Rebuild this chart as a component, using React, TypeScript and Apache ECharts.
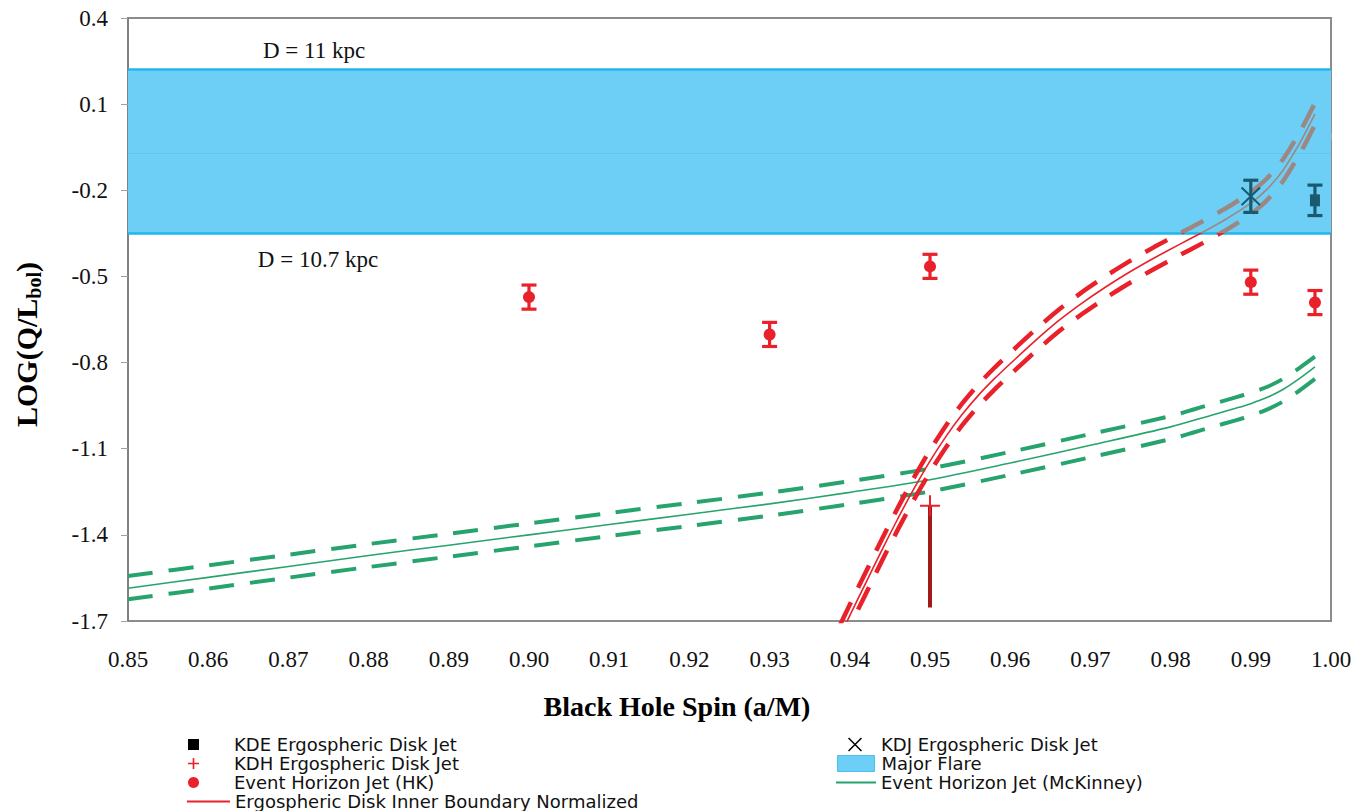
import React, { useEffect, useRef } from "react";
import * as echarts from "echarts";

// ---- axes ----
const xMin = 0.85;
const xMax = 1.0;
const xStep = 0.01;
const yMin = -1.7;
const yMax = 0.4;
const yStep = 0.3;

// ---- Event Horizon Jet (McKinney) ----
const mckSpin = [0.85, 0.86, 0.87, 0.88, 0.89, 0.9, 0.91, 0.92, 0.93, 0.94, 0.95, 0.96, 0.97, 0.98, 0.985, 0.988, 0.99, 0.992, 0.994, 0.996, 0.998];
const mckCenter = [-1.586, -1.548, -1.51, -1.472, -1.436, -1.4, -1.364, -1.328, -1.292, -1.252, -1.208, -1.15, -1.088, -1.024, -0.984, -0.96, -0.943, -0.922, -0.894, -0.857, -0.815];
const mckUpper = [-1.543, -1.506, -1.469, -1.432, -1.396, -1.36, -1.324, -1.289, -1.253, -1.213, -1.169, -1.111, -1.049, -0.986, -0.946, -0.922, -0.905, -0.885, -0.857, -0.82, -0.779];
const mckLower = [-1.624, -1.587, -1.549, -1.512, -1.476, -1.44, -1.404, -1.369, -1.333, -1.293, -1.249, -1.191, -1.13, -1.066, -1.026, -1.002, -0.985, -0.964, -0.936, -0.899, -0.857];

// ---- Ergospheric Disk Inner Boundary Normalized ----
const ergoSpin = [0.9388, 0.94, 0.942, 0.944, 0.946, 0.948, 0.95, 0.952, 0.954, 0.956, 0.958, 0.96, 0.963, 0.966, 0.969, 0.972, 0.975, 0.978, 0.981, 0.984, 0.987, 0.99, 0.992, 0.994, 0.996, 0.997, 0.998];
const ergoCenter = [-1.751, -1.681, -1.567, -1.453, -1.343, -1.239, -1.143, -1.057, -0.981, -0.915, -0.857, -0.804, -0.727, -0.655, -0.592, -0.535, -0.483, -0.435, -0.39, -0.346, -0.299, -0.245, -0.197, -0.131, -0.041, 0.011, 0.066];
const ergoUpper = [-1.713, -1.643, -1.529, -1.415, -1.305, -1.201, -1.105, -1.019, -0.943, -0.877, -0.819, -0.766, -0.689, -0.617, -0.554, -0.497, -0.445, -0.397, -0.352, -0.308, -0.261, -0.207, -0.159, -0.093, -0.003, 0.049, 0.104];
const ergoLower = [-1.789, -1.719, -1.605, -1.491, -1.381, -1.277, -1.181, -1.095, -1.019, -0.953, -0.895, -0.842, -0.765, -0.693, -0.63, -0.573, -0.521, -0.473, -0.428, -0.384, -0.337, -0.283, -0.235, -0.169, -0.079, -0.027, 0.028];

// ---- points ----
const hkSpin = [0.9, 0.93, 0.95, 0.99, 0.998];
const hkLog = [-0.572, -0.702, -0.465, -0.52, -0.591];
const hkErr = [0.042, 0.042, 0.042, 0.042, 0.042];

const kdeSpin = [0.998];
const kdeLog = [-0.235];
const kdeErr = [0.053];

const kdjSpin = [0.99];
const kdjLog = [-0.221];
const kdjErr = [0.056];

const kdhSpin = [0.95];
const kdhLog = [-1.299];
const kdhLowerErr = [0.354];

// ---- Major flare band ----
const flareTop = 0.218;
const flareMid = -0.067;
const flareBottom = -0.349;
const flareLabels = ["D = 11 kpc", "D = 10.7 kpc"];

const NAME_KDE = "KDE Ergospheric Disk Jet";
const NAME_KDH = "KDH Ergospheric Disk Jet";
const NAME_HK = "Event Horizon Jet (HK)";
const NAME_ERGO = "Ergospheric Disk Inner Boundary Normalized";
const NAME_KDJ = "KDJ Ergospheric Disk Jet";
const NAME_FLARE = "Major Flare";
const NAME_MCK = "Event Horizon Jet (McKinney)";

const RED = "#e8212b";
const GREY = "#9b8884";
const GREEN = "#27a46d";
const TEAL = "#1a5a70";
const DARKRED = "#a11a1a";
const FLARE = "#6dcff6";
const FLARE_EDGE = "#1eb6ec";

const PLUS_PATH = "path://M0,9.5H20V11.5H0Z M9,0H11V21H9Z";
const PLUS_ICON = "path://M0,8.5H20V11.5H0Z M8.5,0H11.5V20H8.5Z";
const X_PATH = "path://M0,1.5L1.5,0L20,18.5L18.5,20Z M18.5,0L20,1.5L1.5,20L0,18.5Z";

const SERIF = "'Liberation Serif', 'Times New Roman', serif";
const SANS = "'DejaVu Sans', 'Liberation Sans', sans-serif";

function pairs(xs: number[], ys: number[]) {
  return xs.map((x, i) => [x, ys[i]]);
}

function errorBar(color: string, width: number, capHalf: number) {
  return (_params: any, api: any) => {
    const x = api.value(0);
    const lo = api.coord([x, api.value(1)]);
    const hi = api.coord([x, api.value(2)]);
    const style = { stroke: color, lineWidth: width, fill: "none" };
    const children: any[] = [
      { type: "line", shape: { x1: lo[0], y1: lo[1], x2: hi[0], y2: hi[1] }, style },
    ];
    if (capHalf > 0) {
      children.push({ type: "line", shape: { x1: lo[0] - capHalf, y1: lo[1], x2: lo[0] + capHalf, y2: lo[1] }, style });
      children.push({ type: "line", shape: { x1: hi[0] - capHalf, y1: hi[1], x2: hi[0] + capHalf, y2: hi[1] }, style });
    }
    return { type: "group", children };
  };
}

const legendText = { fontFamily: SANS, fontSize: 18, color: "#111", lineHeight: 19 };
const legendBase = {
  orient: "vertical",
  align: "left",
  padding: 0,
  itemGap: 0,
  selectedMode: false,
};

export default function App() {
  const ref = useRef<HTMLDivElement>(null);
  useEffect(() => {
    if (!ref.current) return;
    const chart = echarts.init(ref.current, undefined, { renderer: "svg" });
    const option: any = {
      animation: false,
      backgroundColor: "#ffffff",
      grid: {
        left: 128,
        right: 30,
        top: 18,
        bottom: 190,
        show: true,
        borderColor: "#8c8c8c",
        borderWidth: 2,
        backgroundColor: "transparent",
      },
      xAxis: {
        type: "value",
        min: xMin,
        max: xMax,
        interval: xStep,
        name: "Black Hole Spin (a/M)",
        nameLocation: "middle",
        nameGap: 71,
        nameTextStyle: {
          fontFamily: SERIF,
          fontWeight: "bold",
          fontSize: 28,
          color: "#000",
          padding: [0, 105, 0, 0],
        },
        axisLine: { show: true, lineStyle: { color: "#808080", width: 2 } },
        axisTick: { show: true, length: 7, lineStyle: { color: "#a0a0a0", width: 1 } },
        axisLabel: {
          margin: 27,
          fontFamily: SERIF,
          fontSize: 23,
          color: "#111",
          formatter: (v: number) => v.toFixed(2),
        },
        splitLine: { show: false },
      },
      yAxis: {
        type: "value",
        min: yMin,
        max: yMax,
        interval: yStep,
        name: "{t|LOG(Q/L}{s|bol}{t|)}",
        nameLocation: "middle",
        nameGap: 84,
        nameTextStyle: {
          padding: [0, 50, 0, 0],
          rich: {
            t: { fontFamily: SERIF, fontWeight: "bold", fontSize: 30, color: "#000", lineHeight: 36 },
            s: { fontFamily: SERIF, fontWeight: "bold", fontSize: 20, color: "#000", lineHeight: 36, verticalAlign: "bottom" },
          },
        },
        axisLine: { show: true, lineStyle: { color: "#808080", width: 2 } },
        axisTick: { show: true, length: 7, lineStyle: { color: "#a0a0a0", width: 1 } },
        axisLabel: {
          margin: 20,
          fontFamily: SERIF,
          fontSize: 23,
          color: "#111",
          formatter: (v: number) => v.toFixed(1),
        },
        splitLine: { show: false },
      },
      visualMap: [
        {
          type: "piecewise",
          show: false,
          dimension: 1,
          seriesIndex: [4, 5, 6],
          pieces: [
            { min: -3, max: flareBottom, color: RED },
            { min: flareBottom, max: 1, color: GREY },
          ],
        },
      ],
      legend: [
        {
          ...legendBase,
          left: 188,
          top: 735,
          itemWidth: 11,
          itemHeight: 11,
          textStyle: { ...legendText, padding: [0, 0, 0, 30] },
          data: [
            { name: NAME_KDE, icon: "rect", itemStyle: { color: "#000" } },
            { name: NAME_KDH, icon: PLUS_ICON, itemStyle: { color: RED } },
            { name: NAME_HK, icon: "circle", itemStyle: { color: RED } },
          ],
        },
        {
          ...legendBase,
          left: 187,
          top: 792,
          itemWidth: 43,
          itemHeight: 2,
          symbolKeepAspect: false,
          textStyle: legendText,
          data: [{ name: NAME_ERGO, icon: "rect", itemStyle: { color: RED } }],
        },
        {
          ...legendBase,
          left: 848,
          top: 735,
          itemWidth: 14,
          itemHeight: 14,
          textStyle: { ...legendText, padding: [0, 0, 0, 14] },
          data: [{ name: NAME_KDJ, icon: X_PATH, itemStyle: { color: "#000" } }],
        },
        {
          ...legendBase,
          left: 837,
          top: 754,
          itemWidth: 37,
          itemHeight: 16,
          symbolKeepAspect: false,
          textStyle: { ...legendText, padding: [0, 0, 0, 2] },
          data: [{ name: NAME_FLARE, icon: "rect", itemStyle: { color: FLARE, borderColor: "#4fc0ee", borderWidth: 1 } }],
        },
        {
          ...legendBase,
          left: 836,
          top: 773,
          itemWidth: 40,
          itemHeight: 2,
          symbolKeepAspect: false,
          textStyle: legendText,
          data: [{ name: NAME_MCK, icon: "rect", itemStyle: { color: GREEN } }],
        },
      ],
      series: [
        // 0: major flare band
        {
          name: NAME_FLARE,
          type: "line",
          data: [],
          z: 1,
          silent: true,
          itemStyle: { color: FLARE },
          markArea: {
            silent: true,
            z: 1,
            itemStyle: { color: FLARE, borderWidth: 0 },
            label: {
              show: true,
              fontFamily: SERIF,
              fontSize: 23,
              color: "#111",
              align: "center",
              verticalAlign: "middle",
            },
            data: [
              [
                { yAxis: flareTop, name: flareLabels[0], label: { position: [186, -20] } },
                { yAxis: flareMid },
              ],
              [
                { yAxis: flareMid, name: flareLabels[1], label: { position: [190, 107] } },
                { yAxis: flareBottom },
              ],
            ],
          },
          markLine: {
            silent: true,
            z: 1,
            symbol: ["none", "none"],
            label: { show: false },
            lineStyle: { color: FLARE_EDGE, width: 2.5, type: "solid" },
            data: [
              { yAxis: flareTop },
              { yAxis: flareBottom },
              { yAxis: flareMid, lineStyle: { color: "#5cc6ef", width: 1, type: "solid" } },
            ],
          },
        },
        // 1-3: McKinney
        {
          name: NAME_MCK,
          type: "line",
          z: 3,
          data: pairs(mckSpin, mckCenter),
          symbol: "none",
          smooth: 0.3,
          lineStyle: { color: GREEN, width: 1.6 },
          itemStyle: { color: GREEN },
        },
        {
          name: "McKinney upper",
          type: "line",
          z: 3,
          data: pairs(mckSpin, mckUpper),
          symbol: "none",
          smooth: 0.3,
          lineStyle: { color: GREEN, width: 4, type: [25, 16] },
        },
        {
          name: "McKinney lower",
          type: "line",
          z: 3,
          data: pairs(mckSpin, mckLower),
          symbol: "none",
          smooth: 0.3,
          lineStyle: { color: GREEN, width: 4, type: [25, 16] },
        },
        // 4-6: Ergospheric boundary (colour from visualMap: red below band, grey inside)
        {
          name: NAME_ERGO,
          type: "line",
          z: 3,
          data: pairs(ergoSpin, ergoCenter),
          symbol: "none",
          smooth: 0.2,
          lineStyle: { width: 1.6 },
        },
        {
          name: "Ergo upper",
          type: "line",
          z: 3,
          data: pairs(ergoSpin, ergoUpper),
          symbol: "none",
          smooth: 0.2,
          lineStyle: { width: 4.5, type: [25, 16] },
        },
        {
          name: "Ergo lower",
          type: "line",
          z: 3,
          data: pairs(ergoSpin, ergoLower),
          symbol: "none",
          smooth: 0.2,
          lineStyle: { width: 4.5, type: [25, 16] },
        },
        // 7-8: HK
        {
          name: "HK error",
          type: "custom",
          z: 4,
          silent: true,
          renderItem: errorBar(RED, 3.2, 7.5),
          encode: { x: 0, y: [1, 2] },
          data: hkSpin.map((s, i) => [s, hkLog[i] - hkErr[i], hkLog[i] + hkErr[i]]),
        },
        {
          name: NAME_HK,
          type: "scatter",
          z: 5,
          symbol: "circle",
          symbolSize: [12, 12],
          itemStyle: { color: RED, opacity: 1 },
          data: pairs(hkSpin, hkLog),
        },
        // 9-11: KDJ and KDE
        {
          name: "Disk jet error",
          type: "custom",
          z: 4,
          silent: true,
          renderItem: errorBar(TEAL, 3.2, 7.5),
          encode: { x: 0, y: [1, 2] },
          data: [
            ...kdjSpin.map((s, i) => [s, kdjLog[i] - kdjErr[i], kdjLog[i] + kdjErr[i]]),
            ...kdeSpin.map((s, i) => [s, kdeLog[i] - kdeErr[i], kdeLog[i] + kdeErr[i]]),
          ],
        },
        {
          name: NAME_KDJ,
          type: "scatter",
          z: 5,
          symbol: X_PATH,
          symbolSize: [20, 19],
          itemStyle: { color: TEAL, opacity: 1 },
          data: pairs(kdjSpin, kdjLog),
        },
        {
          name: NAME_KDE,
          type: "scatter",
          z: 5,
          symbol: "rect",
          symbolSize: [10, 12],
          itemStyle: { color: TEAL, opacity: 1 },
          data: pairs(kdeSpin, kdeLog),
        },
        // 12-13: KDH
        {
          name: "KDH limit",
          type: "custom",
          z: 4,
          silent: true,
          renderItem: errorBar(DARKRED, 4, 0),
          encode: { x: 0, y: [1, 2] },
          data: kdhSpin.map((s, i) => [s, kdhLog[i] - kdhLowerErr[i], kdhLog[i]]),
        },
        {
          name: NAME_KDH,
          type: "scatter",
          z: 5,
          symbol: PLUS_PATH,
          symbolSize: [20, 21],
          itemStyle: { color: RED, opacity: 1 },
          data: pairs(kdhSpin, kdhLog),
        },
      ],
    };
    chart.setOption(option);
    return () => {
      chart.dispose();
    };
  }, []);
  return (
    <div
      ref={ref}
      style={{ position: "fixed", left: 0, top: 0, width: 1361, height: 811, background: "#fff" }}
    />
  );
}
